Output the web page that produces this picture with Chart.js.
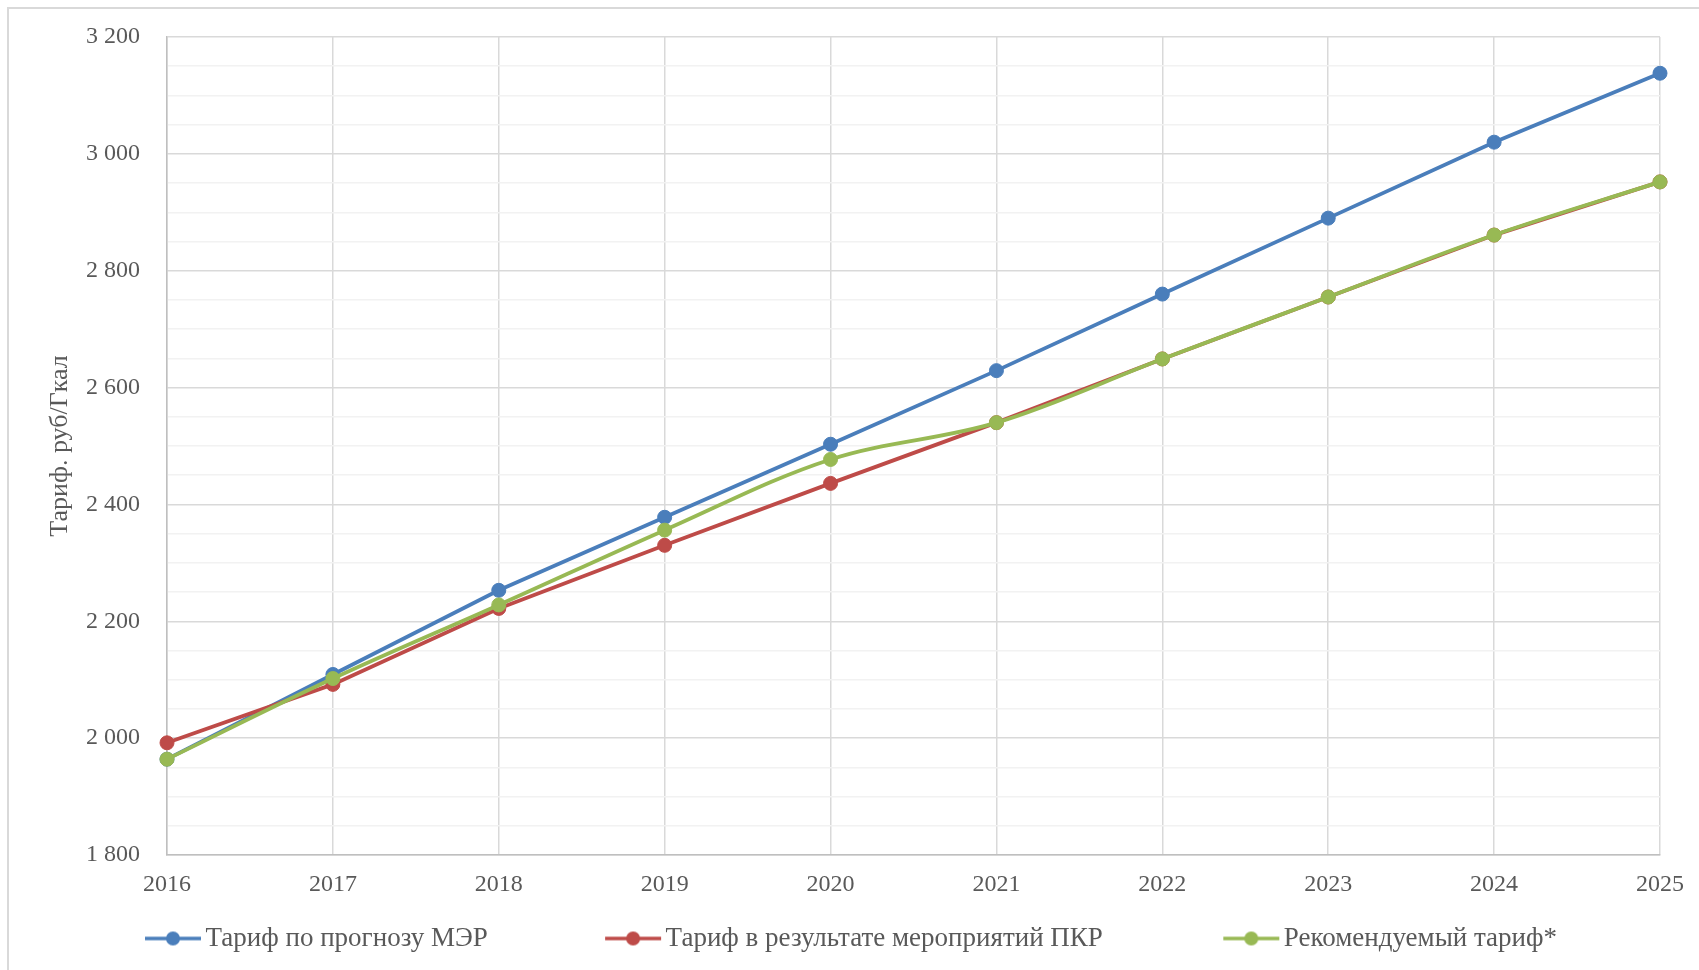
<!DOCTYPE html>
<html>
<head>
<meta charset="utf-8">
<script src="https://cdn.jsdelivr.net/npm/chart.js@4.4.0/dist/chart.umd.min.js"></script>
<style>
  html, body { margin: 0; padding: 0; background: #ffffff; overflow: hidden; }
  #wrap { position: relative; width: 1699px; height: 970px; }
  #frame { position: absolute; left: 7px; top: 7px; width: 1800px; height: 1100px;
           border: 2px solid #d9d9d9; box-sizing: border-box; pointer-events: none; }
  canvas { position: absolute; left: 0; top: 0; }
</style>
</head>
<body>
<div id="wrap">
  <canvas id="c" width="1699" height="970"></canvas>
  <div id="frame"></div>
</div>
<script>
// ---- data ----
const years = ['2016','2017','2018','2019','2020','2021','2022','2023','2024','2025'];
const seriesNames = ['Тариф по прогнозу МЭР', 'Тариф в результате мероприятий ПКР', 'Рекомендуемый тариф*'];
const tariffMER = [1964, 2109, 2253, 2378, 2503, 2629, 2760, 2890, 3020, 3138];
const tariffPKR = [1992, 2092, 2222, 2330, 2436, 2540, 2649, 2755, 2861, 2952];
const tariffRecommended = [1964, 2102, 2228, 2356, 2477, 2540, 2649, 2755, 2861, 2952];
const yMin = 1800, yMax = 3200, yMajorStep = 200, yMinorStep = 50;
const yTitle = 'Тариф. руб/Гкал';

const colors = ['#4a7ebb', '#be4b48', '#98b954'];
const legendGap = ['\u2003\u2003\u2003\u2003\u200A', '\u2003\u2003\u2003\u2003\u2009', ''];

function fmt(v) { return String(v).replace(/\B(?=(\d{3})+(?!\d))/g, ' '); }

function marker(color) {
  const cv = document.createElement('canvas');
  cv.width = 64; cv.height = 18;
  const g = cv.getContext('2d');
  g.strokeStyle = color; g.lineWidth = 3.5;
  g.beginPath(); g.moveTo(7, 9); g.lineTo(63, 9); g.stroke();
  g.fillStyle = color;
  g.beginPath(); g.arc(35, 9, 7, 0, Math.PI * 2); g.fill();
  return cv;
}
const markers = colors.map(marker);

const font = 'Liberation Serif, Times New Roman, serif';
const textColor = '#595959';

const seriesData = [tariffMER, tariffPKR, tariffRecommended];
const datasets = seriesData.map((d, i) => ({
  label: seriesNames[i],
  data: d,
  borderColor: colors[i],
  backgroundColor: colors[i],
  borderWidth: 3.8,
  pointRadius: 7,
  pointBorderWidth: 1,
  pointHoverRadius: 7,
  tension: i === 2 ? 0.35 : 0,
  order: 3 - i,
  fill: false
}));

new Chart(document.getElementById('c'), {
  type: 'line',
  data: { labels: years, datasets },
  options: {
    responsive: false,
    animation: false,
    layout: { padding: { left: 45, right: 39, top: 37, bottom: 8 } },
    plugins: {
      tooltip: { enabled: false },
      legend: {
        position: 'bottom',
        labels: {
          usePointStyle: true,
          pointStyleWidth: 44,
          padding: 10,
          color: textColor,
          font: { family: font, size: 27 },
          generateLabels: (chart) => chart.data.datasets.map((ds, i) => ({
            text: ds.label + legendGap[i],
            fillStyle: colors[i],
            strokeStyle: colors[i],
            fontColor: textColor,
            lineWidth: 0,
            pointStyle: markers[i],
            hidden: false,
            datasetIndex: i
          }))
        }
      }
    },
    scales: {
      x: {
        type: 'category',
        offset: false,
        grid: { display: true, offset: false, drawTicks: false, color: '#d9d9d9', lineWidth: 1.5 },
        border: { display: true, color: '#bfbfbf', width: 1.5 },
        ticks: { color: textColor, font: { family: font, size: 24 }, padding: 15, maxRotation: 0, autoSkip: false },
        afterFit: (s) => { s.height = 60; }
      },
      y: {
        min: yMin, max: yMax,
        grid: {
          drawTicks: false,
          lineWidth: 1.5,
          color: (ctx) => (ctx.tick && ctx.tick.value % yMajorStep === 0) ? '#d9d9d9' : '#f2f2f2'
        },
        border: { display: true, color: '#bfbfbf', width: 1.5 },
        ticks: {
          stepSize: yMinorStep,
          autoSkip: false,
          padding: 27,
          color: textColor,
          font: { family: font, size: 24 },
          callback: (v) => (v % yMajorStep === 0) ? fmt(v) : ''
        },
        title: {
          display: true,
          text: yTitle,
          color: textColor,
          font: { family: font, size: 26 },
          padding: { top: 0, bottom: 0 }
        },
        afterFit: (s) => { s.width = 122; s.paddingTop = 15; s.paddingBottom = 15; }
      }
    }
  }
});
</script>
</body>
</html>
